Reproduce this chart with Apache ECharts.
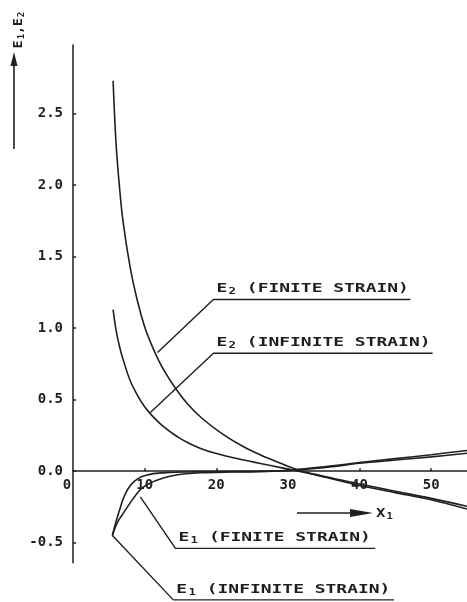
<!DOCTYPE html>
<html lang="en">
  <head>
    <meta charset="UTF-8" />
    <title>E1, E2 vs X1</title>
    <style>
      html,
      body {
        margin: 0;
        width: 100%;
        height: 100%;
        overflow: hidden;
        background: #fff;
      }
      #main {
        width: 467px;
        height: 602px;
      }
    </style>
  </head>
  <body>
    <div id="main"></div>
    <script src="https://cdn.jsdelivr.net/npm/echarts@6/dist/echarts.min.js"></script>
    <script>
      // curves, [X1, E]
      const e2Finite = [
        [5.6, 2.73], [6.0, 2.3], [6.5, 1.98], [7.0, 1.74], [8.0, 1.42],
        [9.0, 1.19], [10.0, 1.01], [11.0, 0.88], [12.0, 0.77], [13.0, 0.68],
        [14.3, 0.58], [16.0, 0.47], [18.0, 0.37], [21.0, 0.255], [24.0, 0.165],
        [27.0, 0.095], [30.0, 0.035], [32.0, 0.0], [35, -0.04], [40, -0.1],
        [45, -0.15], [50, -0.2], [55, -0.265]
      ];
      const e2Infinite = [
        [5.6, 1.13], [6.0, 0.99], [6.5, 0.87], [7.0, 0.78], [8.0, 0.63],
        [9.0, 0.53], [10.0, 0.45], [11.0, 0.39], [12.0, 0.34], [13.0, 0.297],
        [14.0, 0.26], [15.0, 0.228], [16.0, 0.2], [17.0, 0.176], [18.0, 0.155],
        [19.5, 0.13], [21.5, 0.105], [24.0, 0.076], [26.5, 0.05], [29.0, 0.025],
        [31.5, 0.0], [35, -0.035], [40, -0.09], [45, -0.14], [50, -0.19],
        [55, -0.245]
      ];
      const e1Finite = [
        [5.5, -0.45], [5.8, -0.405], [6.2, -0.36], [6.6, -0.325], [7.0, -0.295],
        [7.7, -0.243], [8.4, -0.192], [9.1, -0.145], [9.8, -0.112], [10.5, -0.09],
        [11.2, -0.073], [12.2, -0.054], [13.1, -0.041], [14.2, -0.029], [15.4, -0.02],
        [17.8, -0.011], [22, -0.006], [26, -0.003], [30, 0.005], [35, 0.025],
        [40, 0.055], [45, 0.078], [50, 0.1], [55, 0.125]
      ];
      const e1Infinite = [
        [5.5, -0.45], [5.8, -0.39], [6.2, -0.32], [6.6, -0.255], [7.0, -0.195],
        [7.5, -0.14], [8.0, -0.1], [8.6, -0.07], [9.3, -0.045], [10.1, -0.03],
        [11.2, -0.017], [13, -0.01], [16, -0.006], [20, -0.004], [26, -0.001],
        [29, 0.003], [32, 0.015], [35, 0.03], [40, 0.06], [45, 0.088],
        [50, 0.115], [55, 0.145]
      ];
      const xLabels = [0, 10, 20, 30, 40, 50];
      const xTicks = [10, 20, 30, 40, 50];
      const yTicks = [-0.5, 0, 0.5, 1, 1.5, 2, 2.5];
      const labelSubs = ["2", "2", "1", "1"];
      const labelNames = ["(FINITE STRAIN)", "(INFINITE STRAIN)", "(FINITE STRAIN)", "(INFINITE STRAIN)"];

      // leader lines for the labels, in axis units
      const leaders = [
        [[11.8, 0.83], [19.6, 1.2], [47.1, 1.2]],
        [[10.8, 0.41], [19.6, 0.825], [50.2, 0.825]],
        [[9.4, -0.18], [14.3, -0.54], [42.2, -0.54]],
        [[5.5, -0.45], [14.0, -0.9], [44.8, -0.9]]
      ];

      const ink = "#1f1f1f";
      const font = '"DejaVu Sans Mono", monospace';
      const yMin = -0.64;
      const yMax = 2.98;
      const gridTop = 45;
      const gridH = 517.7;
      // the x axis is drawn through E = 0
      const zeroShift = (gridH * -yMin) / (yMax - yMin);

      const curve = (data) => ({
        type: "line",
        data: data,
        symbol: "none",
        smooth: 0.35,
        silent: true,
        lineStyle: { color: ink, width: 1.6 },
      });
      const leaderLine = (pts) => ({
        type: "line",
        data: pts,
        symbol: "none",
        clip: false,
        silent: true,
        lineStyle: { color: ink, width: 1.4 },
      });

      const option = {
        animation: false,
        backgroundColor: "#fff",
        grid: {
          left: 73,
          top: gridTop,
          width: 394,
          height: gridH,
          containLabel: false,
          outerBoundsMode: "none",
        },
        xAxis: {
          type: "value",
          min: 0,
          max: 55,
          offset: -zeroShift,
          axisLine: { onZero: false, lineStyle: { color: ink, width: 1.5 } },
          axisTick: { customValues: xTicks, inside: true, length: 3, lineStyle: { color: ink, width: 1.5 } },
          axisLabel: {
            customValues: xLabels,
            margin: 7,
            color: ink,
            fontFamily: font,
            fontWeight: "bold",
            fontSize: 14,
            formatter: (v) => (v === 0 ? "{z|0}" : String(v)),
            rich: {
              z: { fontFamily: font, fontWeight: "bold", fontSize: 14, color: ink, padding: [0, 12, 0, 0] },
            },
          },
          splitLine: { show: false },
        },
        yAxis: {
          type: "value",
          min: yMin,
          max: yMax,
          axisLine: { show: true, onZero: false, lineStyle: { color: ink, width: 1.5 } },
          axisTick: { show: true, customValues: yTicks, inside: true, length: 3, lineStyle: { color: ink, width: 1.5 } },
          axisLabel: {
            customValues: yTicks,
            margin: 10,
            color: ink,
            fontFamily: font,
            fontWeight: "bold",
            fontSize: 14,
            formatter: (v) => v.toFixed(1),
          },
          splitLine: { show: false },
        },
        series: [
          curve(e2Finite),
          curve(e2Infinite),
          curve(e1Finite),
          curve(e1Infinite),
        ].concat(leaders.map(leaderLine)),
      };

      const chart = echarts.init(document.getElementById("main"));
      chart.setOption(option);

      // label texts sit on the horizontal part of each leader
      const rich = {
        m: { fontFamily: font, fontWeight: "bold", fontSize: 13, fill: ink },
        s: { fontFamily: font, fontWeight: "bold", fontSize: 9, fill: ink, padding: [6, 0, 0, 1] },
      };
      const texts = leaders.map((pts, i) => {
        const p = chart.convertToPixel({ gridIndex: 0 }, pts[1]);
        return {
          type: "text",
          x: p[0] + 3,
          y: p[1] - 3,
          scaleX: 1.38,
          silent: true,
          style: {
            text: "{m|E}{s|" + labelSubs[i] + "}{m| " + labelNames[i] + "}",
            rich: rich,
            align: "left",
            verticalAlign: "bottom",
          },
        };
      });

      const decor = [
        // y axis title with arrow
        {
          type: "text",
          x: 19,
          y: 30,
          rotation: Math.PI / 2,
          silent: true,
          style: {
            text: "{m|E}{s|1}{m|,E}{s|2}",
            rich: rich,
            align: "center",
            verticalAlign: "middle",
          },
        },
        { type: "line", silent: true, shape: { x1: 14, y1: 149, x2: 14, y2: 62 }, style: { stroke: ink, lineWidth: 1.6 } },
        { type: "polygon", silent: true, shape: { points: [[14, 52], [10.5, 66], [17.5, 66]] }, style: { fill: ink } },
        // x axis title with arrow
        { type: "line", silent: true, shape: { x1: 297, y1: 513, x2: 360, y2: 513 }, style: { stroke: ink, lineWidth: 1.6 } },
        { type: "polygon", silent: true, shape: { points: [[373, 513], [350, 509], [350, 517]] }, style: { fill: ink } },
        {
          type: "text",
          x: 376,
          y: 514,
          scaleX: 1.2,
          silent: true,
          style: {
            text: "{m|X}{s|1}",
            rich: rich,
            align: "left",
            verticalAlign: "middle",
          },
        },
      ];

      chart.setOption({ graphic: texts.concat(decor) });
    </script>
  </body>
</html>
